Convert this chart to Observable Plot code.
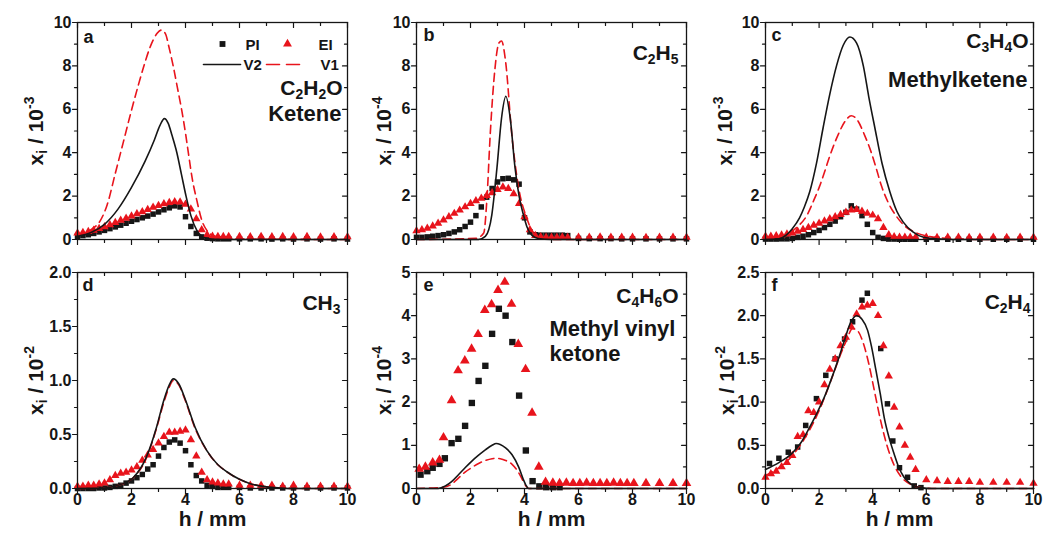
<!DOCTYPE html>
<html><head><meta charset="utf-8">
<script src="https://cdn.jsdelivr.net/npm/d3@7"></script>
<script src="https://cdn.jsdelivr.net/npm/@observablehq/plot@0.6"></script>
<style>
html,body{margin:0;padding:0;background:#fff;}
#chart{position:relative;width:1043px;height:535px;overflow:hidden;background:#fff;}
#chart svg{position:absolute;}
</style></head><body><div id="chart"></div>
<script>
// ---------- data (h in mm, mole fraction in the panel's unit) ----------
const H = [0,0.2,0.4,0.6,0.8,1,1.2,1.4,1.6,1.8,2,2.2,2.4,2.6,2.8,3,3.2,3.4,3.6,3.8,4,4.2,4.4,4.6,4.8,5,5.2,5.4,5.6,6,6.4,6.8,7.2,7.6,8,8.5,9,9.5,10];
const xTickValues = [0,2,4,6,8,10];
const xMinorValues = [1,3,5,7,9];

// a: C2H2O ketene (1e-3)
const aPI = [0.15,0.18,0.22,0.28,0.35,0.42,0.5,0.58,0.66,0.75,0.84,0.92,1.0,1.08,1.17,1.27,1.37,1.46,1.55,1.5,1.05,0.6,0.28,0.12,0.06,0.04,0.03,0.03,0.03,0.03,0.03,0.03,0.02,0.03,0.02,0.03,0.02,0.03,0.02];
const aEI = [0.3,0.32,0.36,0.42,0.5,0.58,0.68,0.78,0.88,0.98,1.08,1.18,1.28,1.38,1.48,1.56,1.64,1.7,1.74,1.72,1.62,1.4,0.95,0.45,0.22,0.15,0.14,0.13,0.14,0.13,0.12,0.14,0.12,0.13,0.12,0.13,0.11,0.12,0.12];
const aV2 = [[0,0.15],[0.5,0.32],[1.0,0.7],[1.5,1.4],[2.0,2.4],[2.5,3.6],[2.85,4.6],[3.05,5.25],[3.22,5.57],[3.36,5.35],[3.5,4.8],[3.68,4.0],[3.85,3.0],[4.02,2.0],[4.2,1.1],[4.42,0.42],[4.6,0.15],[4.8,0.05],[5.2,0],[10,0]];
const aV1 = [[0,0.2],[0.5,0.45],[0.85,0.88],[1.1,1.6],[1.4,3.05],[1.7,4.5],[2.0,5.96],[2.25,7.1],[2.45,7.96],[2.7,8.9],[2.95,9.5],[3.1,9.65],[3.25,9.5],[3.4,8.8],[3.55,7.96],[3.7,7.0],[3.86,5.96],[4.0,4.9],[4.11,3.96],[4.25,2.8],[4.42,1.8],[4.6,0.9],[4.79,0.42],[5.0,0.2],[5.5,0.07],[6,0.02],[10,0]];

// b: C2H5 (1e-4)
const bPI = [0.1,0.1,0.12,0.15,0.18,0.22,0.28,0.35,0.45,0.6,0.8,1.1,1.5,1.95,2.35,2.65,2.8,2.82,2.75,2.55,1.0,0.35,0.22,0.2,0.2,0.2,0.2,0.2,0.18,0.05,0.04,0.04,0.04,0.03,0.03,0.03,0.03,0.03,0.03];
const bEI = [0.4,0.45,0.52,0.62,0.75,0.9,1.05,1.2,1.35,1.5,1.65,1.78,1.9,2.02,2.15,2.3,2.42,2.35,2.1,1.65,1.05,0.45,0.18,0.12,0.1,0.1,0.1,0.11,0.1,0.1,0.1,0.11,0.1,0.1,0.1,0.09,0.1,0.1,0.1];
const bV2 = [[0,0],[2.3,0],[2.55,0.14],[2.79,1.14],[2.98,3.3],[3.15,5.6],[3.31,6.6],[3.47,5.6],[3.65,3.3],[3.8,2.0],[3.96,1.14],[4.1,0.55],[4.27,0.2],[4.5,0.05],[5,0],[10,0]];
const bV1 = [[0,0],[2.2,0.05],[2.49,0.3],[2.61,1.9],[2.73,4.83],[2.9,7.8],[3.05,9.05],[3.15,9.15],[3.3,8.2],[3.53,4.83],[3.78,2.4],[4.08,1.0],[4.39,0.2],[4.7,0.05],[5,0],[10,0]];

// c: C3H4O methylketene (1e-3)
const cPI = [0.02,0.02,0.02,0.03,0.03,0.05,0.1,0.15,0.22,0.32,0.42,0.55,0.7,0.85,1.05,1.25,1.55,1.4,1.1,0.7,0.32,0.1,0.05,0.02,0.02,0.01,0.01,0.01,0.01,0.01,0.01,0.01,0.01,0.01,0.01,0.01,0.01,0.01,0.01];
const cEI = [0.15,0.15,0.17,0.2,0.25,0.3,0.38,0.46,0.55,0.65,0.75,0.85,0.95,1.05,1.15,1.25,1.35,1.38,1.3,1.2,1.12,0.95,0.55,0.22,0.12,0.1,0.1,0.1,0.1,0.1,0.09,0.1,0.1,0.09,0.1,0.1,0.09,0.1,0.1];
const cV2 = [[0,0],[0.5,0.03],[0.77,0.2],[1.0,0.5],[1.27,1.0],[1.45,1.5],[1.65,2.2],[1.9,3.5],[2.15,5.15],[2.4,6.7],[2.65,8.0],[2.9,8.95],[3.15,9.33],[3.4,9.05],[3.65,8.0],[3.85,6.6],[4.08,5.15],[4.35,3.5],[4.64,2.2],[4.9,1.3],[5.14,0.8],[5.5,0.35],[5.9,0.1],[6.5,0.02],[7,0],[10,0]];
const cV1 = [[0,0.02],[0.5,0.1],[0.9,0.3],[1.2,0.6],[1.52,1.06],[1.8,1.8],[2.02,2.46],[2.2,3.1],[2.4,3.85],[2.7,4.8],[3.0,5.5],[3.2,5.7],[3.4,5.55],[3.7,4.8],[3.95,4.0],[4.15,3.2],[4.33,2.46],[4.6,1.65],[4.89,1.06],[5.2,0.62],[5.64,0.3],[6.2,0.12],[7,0.04],[8,0],[10,0]];

// d: CH3 (1e-2)
const dPI = [0,0,0,0,0.005,0.005,0.01,0.02,0.03,0.05,0.07,0.1,0.13,0.18,0.22,0.3,0.38,0.43,0.45,0.42,0.35,0.22,0.12,0.07,0.03,0.02,0.01,0.01,0.01,0.01,0.005,0.005,0.005,0.005,0.005,0.005,0.005,0.005,0.005];
const dEI = [0.02,0.02,0.03,0.03,0.04,0.05,0.08,0.12,0.14,0.15,0.17,0.2,0.26,0.31,0.36,0.42,0.48,0.52,0.52,0.53,0.54,0.45,0.3,0.15,0.08,0.06,0.05,0.04,0.04,0.03,0.03,0.03,0.03,0.02,0.03,0.02,0.02,0.02,0.02];
const dV2 = [[0,0],[1.0,0.005],[1.44,0.025],[2.06,0.1],[2.55,0.29],[2.93,0.57],[3.2,0.82],[3.4,0.96],[3.55,1.015],[3.75,0.97],[4.0,0.82],[4.35,0.57],[4.79,0.35],[5.2,0.22],[5.53,0.155],[6.0,0.085],[6.4,0.045],[7.0,0.015],[7.5,0.005],[8,0],[10,0]];
const dV1 = [[0,0],[1.0,0.005],[1.44,0.025],[2.06,0.1],[2.55,0.28],[2.93,0.56],[3.2,0.8],[3.4,0.94],[3.55,1.0],[3.75,0.96],[4.0,0.81],[4.35,0.56],[4.79,0.35],[5.2,0.22],[5.53,0.155],[6.0,0.085],[6.4,0.045],[7.0,0.015],[7.5,0.005],[8,0],[10,0]];

// e: C4H6O methyl vinyl ketone (1e-4)
const ePIh = [0.15,0.4,0.6,0.85,1.05,1.3,1.55,1.8,2.05,2.3,2.55,2.8,3.05,3.3,3.55,3.8,4.05,4.3,4.55,4.8,5.05,5.3];
const ePI  = [0.32,0.4,0.48,0.57,0.7,1.05,1.15,1.45,1.98,2.49,2.84,3.58,4.16,4.0,3.39,2.15,0.88,0.17,0.05,0.03,0.03,0.03];
const eEIh = [0.1,0.33,0.6,0.85,1.0,1.3,1.54,1.79,2.04,2.28,2.53,2.78,3.02,3.27,3.52,3.77,4.04,4.28,4.53,4.78,5.05,5.3,5.55,5.8,6.05,6.3,6.55,6.8,7.05,7.3,7.55,7.8,8.05,8.5,9,9.5,10];
const eEI  = [0.45,0.5,0.6,0.66,1.18,2.04,2.73,2.96,3.23,3.57,4.13,4.26,4.59,4.78,4.27,3.34,2.76,1.75,0.5,0.15,0.13,0.12,0.13,0.12,0.12,0.13,0.12,0.12,0.12,0.13,0.12,0.12,0.12,0.12,0.12,0.12,0.12];
const eV2 = [[0,0],[0.8,0],[1.07,0.06],[1.3,0.16],[1.57,0.33],[1.8,0.48],[2.06,0.64],[2.3,0.77],[2.56,0.9],[2.8,1.0],[2.95,1.04],[3.1,1.02],[3.3,0.94],[3.54,0.78],[3.79,0.49],[3.95,0.22],[4.05,0.08],[4.15,0],[10,0]];
const eV1 = [[0,0],[1.0,0.03],[1.3,0.1],[1.57,0.25],[1.8,0.38],[2.06,0.49],[2.3,0.58],[2.56,0.65],[2.8,0.69],[2.95,0.7],[3.1,0.69],[3.3,0.65],[3.54,0.56],[3.75,0.4],[3.91,0.22],[4.05,0.06],[4.15,0],[10,0]];

// f: C2H4 (1e-2)
const fPIh = [0.15,0.5,0.85,1.2,1.5,1.9,2.25,2.6,2.95,3.25,3.6,3.8,4.3,4.55,4.75,5.0,5.3,5.55,5.8];
const fPI  = [0.29,0.35,0.42,0.48,0.73,1.04,1.31,1.5,1.73,1.93,2.18,2.26,1.62,0.98,0.55,0.24,0.13,0.03,0.01];
const fEI = [0.13,0.17,0.2,0.25,0.3,0.38,0.6,0.62,0.9,0.88,1.0,1.2,1.38,1.5,1.65,1.75,1.87,2.02,2.1,2.12,2.14,2.0,1.65,1.3,0.94,0.71,0.5,0.36,0.22,0.1,0.09,0.08,0.08,0.08,0.07,0.07,0.07,0.07,0.06];
const fV2 = [[0,0.22],[0.5,0.3],[0.97,0.4],[1.3,0.52],[1.58,0.67],[1.9,0.86],[2.2,1.06],[2.45,1.26],[2.7,1.48],[2.95,1.72],[3.19,1.93],[3.4,2.0],[3.6,1.96],[3.81,1.83],[3.95,1.65],[4.12,1.37],[4.28,1.1],[4.43,0.82],[4.6,0.6],[4.8,0.4],[4.98,0.24],[5.17,0.13],[5.35,0.07],[5.54,0.03],[5.8,0.01],[6.2,0],[10,0]];
const fV1 = [[0,0.15],[0.5,0.24],[1.0,0.38],[1.5,0.6],[2.0,0.9],[2.5,1.3],[2.8,1.55],[3.0,1.7],[3.25,1.85],[3.45,1.82],[3.65,1.68],[3.85,1.45],[4.05,1.15],[4.3,0.78],[4.55,0.48],[4.8,0.27],[5.05,0.14],[5.4,0.05],[5.8,0.01],[6.2,0],[10,0]];

const yTicks10 = [0,2,4,6,8,10], yMinor10 = [1,3,5,7,9];
const yTicks2 = [0,0.5,1,1.5,2], yMinor2 = [0.25,0.75,1.25,1.75];
const yTicks5 = [0,1,2,3,4,5], yMinor5 = [0.5,1.5,2.5,3.5,4.5];
const yTicks25 = [0,0.5,1,1.5,2,2.5], yMinor25 = [0.25,0.75,1.25,1.75,2.25];

// ---------- styling / layout ----------
const FONT = "'Liberation Sans', Arial, Helvetica, sans-serif";
const RED = "#e8141c", INK = "#161616";
const COLL = [77, 416, 765], COLW = [270, 270, 268];
const pair = (xs, ys) => xs.map((x, i) => [x, ys[i]]).filter(d => d[1] != null);
const stick = {draw(ctx, l) { ctx.moveTo(0, 0); ctx.lineTo(0, -l); }};
const FS = 21, NS_ = 22, LS = 18;

const panels = [
  {col:0,row:0,yDomain:[0,10],yTicks:yTicks10,yMinor:yMinor10,fmt:d3.format("d"),yLabel:"x_{i} / 10^{-3}",ylab:35,
   PI:pair(H,aPI),EI:pair(H,aEI),V1:aV1,V2:aV2,r:3.1,legend:true,
   texts:[{t:"a",fa:"top-left",dx:6,dy:20,s:LS,ta:"start"},{t:"C_{2}H_{2}O",fa:"top-right",dx:-5,dy:72,s:FS,ta:"end"},{t:"Ketene",fa:"top-right",dx:-6,dy:98,s:NS_,ta:"end"}]},
  {col:1,row:0,yDomain:[0,10],yTicks:yTicks10,yMinor:yMinor10,fmt:d3.format("d"),yLabel:"x_{i} / 10^{-4}",ylab:26,
   PI:pair(H,bPI),EI:pair(H,bEI),V1:bV1,V2:bV2,r:3.1,
   texts:[{t:"b",fa:"top-left",dx:7,dy:18,s:LS,ta:"start"},{t:"C_{2}H_{5}",fa:"top-right",dx:-8,dy:37,s:FS,ta:"end"}]},
  {col:2,row:0,yDomain:[0,10],yTicks:yTicks10,yMinor:yMinor10,fmt:d3.format("d"),yLabel:"x_{i} / 10^{-3}",ylab:34,
   PI:pair(H,cPI),EI:pair(H,cEI),V1:cV1,V2:cV2,r:3.1,
   texts:[{t:"c",fa:"top-left",dx:6,dy:18,s:LS,ta:"start"},{t:"C_{3}H_{4}O",fa:"top-right",dx:-5,dy:25,s:FS,ta:"end"},{t:"Methylketene",fa:"top-right",dx:-6,dy:64,s:NS_,ta:"end"}]},
  {col:0,row:1,yDomain:[0,2],yTicks:yTicks2,yMinor:yMinor2,fmt:d3.format(".1f"),yLabel:"x_{i} / 10^{-2}",ylab:35,
   PI:pair(H,dPI),EI:pair(H,dEI),V1:dV1,V2:dV2,r:3.1,
   texts:[{t:"d",fa:"top-left",dx:5,dy:18,s:LS,ta:"start"},{t:"CH_{3}",fa:"top-right",dx:-7,dy:37,s:FS,ta:"end"}]},
  {col:1,row:1,yDomain:[0,5],yTicks:yTicks5,yMinor:yMinor5,fmt:d3.format("d"),yLabel:"x_{i} / 10^{-4}",ylab:26,
   PI:pair(ePIh,ePI),EI:pair(eEIh,eEI),V1:eV1,V2:eV2,r:3.6,
   texts:[{t:"e",fa:"top-left",dx:7,dy:18,s:LS,ta:"start"},{t:"C_{4}H_{6}O",fa:"top-right",dx:-8,dy:30,s:FS,ta:"end"},{t:"Methyl vinyl",fa:"top-left",dx:133,dy:63,s:NS_,ta:"start"},{t:"ketone",fa:"top-left",dx:133,dy:88,s:NS_,ta:"start"}]},
  {col:2,row:1,yDomain:[0,2.5],yTicks:yTicks25,yMinor:yMinor25,fmt:d3.format(".1f"),yLabel:"x_{i} / 10^{-2}",ylab:32,
   PI:pair(fPIh,fPI),EI:pair(H,fEI),V1:fV1,V2:fV2,r:3.1,
   texts:[{t:"f",fa:"top-left",dx:6,dy:18,s:LS,ta:"start"},{t:"C_{2}H_{4}",fa:"top-right",dx:-3,dy:36,s:FS,ta:"end"}]}
];

function tickMarks(p) {
  const o = {shape: stick, anchor: "start", stroke: INK, strokeWidth: 1.2};
  return [
    Plot.vectorX(xTickValues, {...o, frameAnchor: "bottom", rotate: 180, length: 5}),
    Plot.vectorX(xMinorValues, {...o, frameAnchor: "bottom", rotate: 180, length: 3}),
    Plot.vectorX(xTickValues, {...o, frameAnchor: "top", rotate: 180, length: 5}),
    Plot.vectorX(xMinorValues, {...o, frameAnchor: "top", rotate: 180, length: 3}),
    Plot.vectorY(p.yTicks, {...o, frameAnchor: "left", rotate: -90, length: 5}),
    Plot.vectorY(p.yMinor, {...o, frameAnchor: "left", rotate: -90, length: 3}),
    Plot.vectorY(p.yTicks, {...o, frameAnchor: "right", rotate: -90, length: 5}),
    Plot.vectorY(p.yMinor, {...o, frameAnchor: "right", rotate: -90, length: 3})
  ];
}

function label(t, opts) {
  return Plot.text([t], {x: null, y: null, text: d => d, fontWeight: "bold", lineAnchor: "bottom", fill: INK, ...opts});
}

function legendMarks() {
  const none = {x: null, y: null, frameAnchor: "top-right"};
  return [
    Plot.dot([0], {...none, dx: -125, dy: 21.5, symbol: "square", r: 3.3, fill: INK}),
    label("PI", {frameAnchor: "top-right", dx: -102, dy: 27, fontSize: 15, textAnchor: "start"}),
    Plot.dot([0], {...none, dx: -60, dy: 21.5, symbol: "triangle", r: 3.3, fill: RED}),
    label("EI", {frameAnchor: "top-right", dx: -29, dy: 27, fontSize: 15, textAnchor: "start"}),
    Plot.vector([0], {...none, dx: -144, dy: 42, rotate: 90, length: 37, anchor: "start", shape: stick, stroke: INK, strokeWidth: 1.6}),
    label("V2", {frameAnchor: "top-right", dx: -104, dy: 47, fontSize: 15, textAnchor: "start"}),
    Plot.vector([0], {...none, dx: -81, dy: 42, rotate: 90, length: 33, anchor: "start", shape: stick, stroke: RED, strokeWidth: 1.6, strokeDasharray: "13,7"}),
    label("V1", {frameAnchor: "top-right", dx: -27, dy: 47, fontSize: 15, textAnchor: "start"})
  ];
}

const NS = "http://www.w3.org/2000/svg";
function richify(svg) {
  for (const t of svg.querySelectorAll("text")) {
    const s = t.textContent;
    if (!/[_^]\{/.test(s)) continue;
    const fs = parseFloat(getComputedStyle(t).fontSize) || 16;
    while (t.firstChild) t.removeChild(t.firstChild);
    const re = /([_^])\{([^}]*)\}|([^_^]+)/g;
    let m, cur = 0;
    while ((m = re.exec(s))) {
      const ts = document.createElementNS(NS, "tspan");
      const target = m[1] ? (m[1] === "_" ? 0.22 * fs : -0.42 * fs) : 0;
      ts.setAttribute("dy", (target - cur).toFixed(2));
      cur = target;
      if (m[1]) ts.setAttribute("font-size", (0.66 * fs).toFixed(1));
      ts.textContent = m[1] ? m[2] : m[3];
      t.appendChild(ts);
    }
  }
}

const chart = document.getElementById("chart");
for (const p of panels) {
  const top = p.row === 0;
  const ml = 70, mr = 8, mt = 8, mb = top ? 8 : 46, fh = top ? 217 : 216, fw = COLW[p.col];
  const marks = [
    Plot.dot(p.PI, {x: d => d[0], y: d => d[1], symbol: "square", r: p.r, fill: INK}),
    Plot.dot(p.EI, {x: d => d[0], y: d => d[1], symbol: "triangle", r: p.r, fill: RED}),
    Plot.line(p.V1, {x: d => d[0], y: d => d[1], curve: "monotone-x", stroke: RED, strokeWidth: 1.6, strokeDasharray: "8,5"}),
    Plot.line(p.V2, {x: d => d[0], y: d => d[1], curve: "monotone-x", stroke: INK, strokeWidth: 1.6}),
    Plot.frame({stroke: INK, strokeWidth: 1.3}),
    ...tickMarks(p),
    Plot.axisY({ticks: p.yTicks, tickSize: 0, tickPadding: 6, tickFormat: p.fmt, fontSize: 16, fontWeight: "bold", label: null}),
    label(p.yLabel, {frameAnchor: "left", dx: -p.ylab, rotate: -90, textAnchor: "middle", fontSize: 21}),
    ...p.texts.map(q => label(q.t, {frameAnchor: q.fa, dx: q.dx, dy: q.dy, fontSize: q.s, textAnchor: q.ta}))
  ];
  if (!top) {
    marks.push(Plot.axisX({ticks: xTickValues, tickSize: 0, tickPadding: 5, fontSize: 16, fontWeight: "bold", label: null}));
    marks.push(label("h / mm", {frameAnchor: "bottom", dy: 37, fontSize: 21, textAnchor: "middle"}));
  }
  if (p.legend) marks.push(...legendMarks());
  const svg = Plot.plot({
    width: ml + fw + mr, height: mt + fh + mb,
    marginLeft: ml, marginRight: mr, marginTop: mt, marginBottom: mb,
    x: {domain: [0, 10], axis: null},
    y: {domain: p.yDomain, axis: null},
    style: {fontFamily: FONT, fontWeight: "bold", fontSize: "16px", color: INK, background: "transparent", overflow: "visible"},
    marks
  });
  svg.style.left = (COLL[p.col] - ml) + "px";
  svg.style.top = (top ? 14 : 264) + "px";
  chart.appendChild(svg);
  richify(svg);
}
</script></body></html>
